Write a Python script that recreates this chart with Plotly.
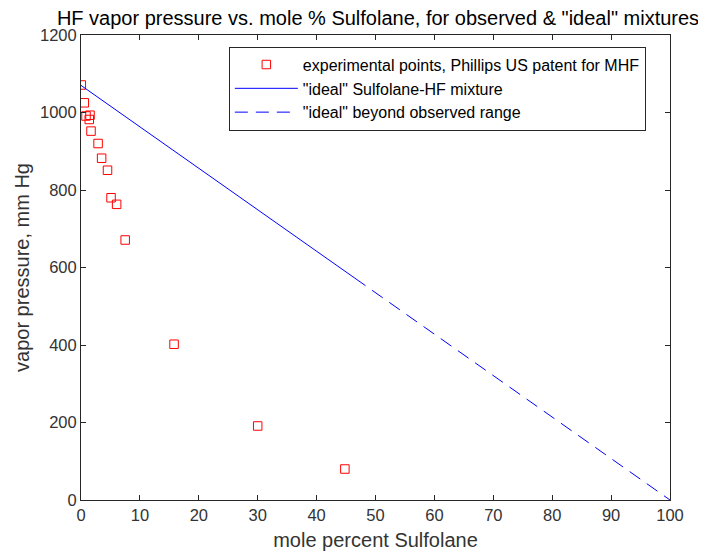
import plotly.graph_objects as go

# experimental data (mole % sulfolane, vapor pressure mm Hg)
exp_x = [0.05, 0.56, 0.85, 1.4, 1.53, 1.7, 2.9, 3.5, 4.5, 5.1, 6.05, 7.5, 15.8, 30.0, 44.8]
exp_y = [1071, 1025, 991, 982, 993, 952, 920, 882, 851, 780, 763, 671, 402, 191, 80]

# ideal line
p0 = 1070
ideal_solid_x = [0, 46.5]
ideal_dash_x = [46.5, 100]
ideal_solid_y = [p0 * (1 - v / 100) for v in ideal_solid_x]
ideal_dash_y = [p0 * (1 - v / 100) for v in ideal_dash_x]

x_ticks = list(range(0, 101, 10))
y_ticks = list(range(0, 1201, 200))

font_fam = "Liberation Sans, Arial, sans-serif"
axc = "#262626"
lblc = "#333333"

fig = go.Figure()
fig.add_trace(go.Scatter(
    x=exp_x, y=exp_y, mode="markers",
    name="experimental points, Phillips US patent for MHF",
    marker=dict(symbol="square-open", size=8.5, color="#ff0000", line=dict(width=1)),
))
fig.add_trace(go.Scatter(
    x=ideal_solid_x, y=ideal_solid_y, mode="lines",
    name='"ideal" Sulfolane-HF mixture',
    line=dict(color="#0000ff", width=1),
))
fig.add_trace(go.Scatter(
    x=ideal_dash_x, y=ideal_dash_y, mode="lines",
    name='"ideal" beyond observed range',
    line=dict(color="#0000ff", width=1, dash="13px,8px"),
))

# page body adds 8px offset; compensate
fig.update_layout(
    width=698, height=550,
    margin=dict(l=73, r=36, t=27, b=58, autoexpand=False),
    paper_bgcolor="white", plot_bgcolor="white",
    font=dict(family=font_fam, color=axc, size=16),
    title=dict(
        text='HF vapor pressure vs. mole % Sulfolane, for observed & "ideal" mixtures',
        x=(378 - 8) / 698, xanchor="center", y=1 - 10 / 550, yanchor="middle",
        font=dict(size=20, color="black", family=font_fam),
    ),
    showlegend=True,
    legend=dict(
        x=0.251, y=0.975, xanchor="left", yanchor="top",
        bordercolor="#262626", borderwidth=1, bgcolor="white",
        font=dict(size=16, color="black", family=font_fam),
        tracegroupgap=0, itemwidth=63,
    ),
    xaxis=dict(
        range=[0, 100], tickvals=x_ticks, ticktext=[str(v) for v in x_ticks],
        showgrid=False, zeroline=False, showline=True, linecolor=axc, linewidth=1,
        mirror="ticks", ticks="inside", ticklen=5, tickcolor=axc, automargin=False,
        tickfont=dict(size=16.5, color=lblc),
        title=dict(text="mole percent Sulfolane", font=dict(size=20, color=lblc), standoff=10),
    ),
    yaxis=dict(
        range=[0, 1200], tickvals=y_ticks, ticktext=[str(v) for v in y_ticks],
        showgrid=False, zeroline=False, showline=True, linecolor=axc, linewidth=1,
        mirror="ticks", ticks="inside", ticklen=5, tickcolor=axc, automargin=False,
        tickfont=dict(size=16.5, color=lblc),
        title=dict(text="vapor pressure, mm Hg", font=dict(size=20, color=lblc), standoff=4),
    ),
)

fig.write_html("out.html")
